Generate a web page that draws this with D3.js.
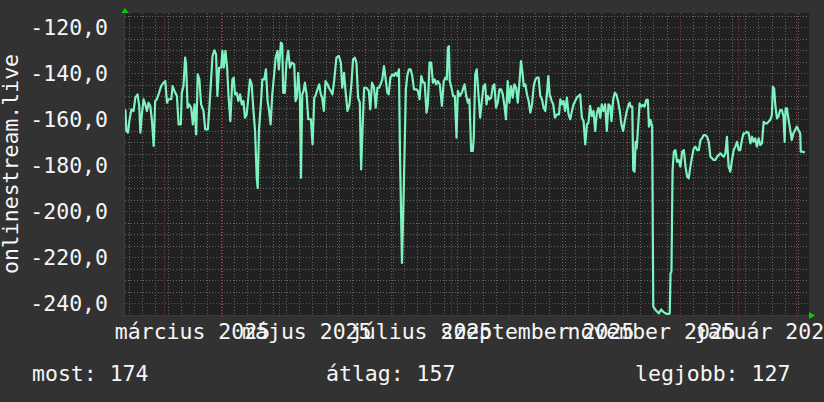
<!DOCTYPE html>
<html>
<head>
<meta charset="utf-8">
<script src="https://cdn.jsdelivr.net/npm/d3@7"></script>
<style>
  body { margin: 0; background: #323232; }
  svg text { font-family: "DejaVu Sans Mono", monospace; font-size: 21.5px; fill: #f6f6f6; }
</style>
</head>
<body>
<div id="chart"></div>
<script>
// readings: [day offset from 2025-02-08, value]
var readings = [
  [0.2,-155.8],[0.7,-165.2],[1.6,-165.9],[2.3,-160.9],[3.4,-155.8],[4.6,-156.5],[5.5,-150.7],[6.7,-149.3],[7.6,-154.3],[8.2,-165.9],
  [9.0,-158.0],[9.9,-151.4],[10.8,-153.6],[11.7,-156.5],[12.6,-152.9],[13.5,-154.3],[14.4,-160.9],[15.3,-171.7],[16.1,-152.2],[17.0,-151.4],
  [17.9,-149.3],[19.3,-145.7],[20.6,-144.2],[21.5,-143.5],[22.4,-152.9],[23.2,-151.4],[24.7,-151.4],[25.4,-145.7],[26.4,-147.8],[27.7,-150.0],
  [28.6,-162.3],[29.8,-162.3],[30.3,-148.6],[31.2,-145.7],[32.1,-133.3],[32.6,-136.2],[33.4,-155.1],[34.2,-153.6],[35.3,-155.1],[36.2,-162.3],
  [37.1,-153.6],[38.0,-166.7],[38.8,-140.6],[39.7,-142.8],[40.6,-153.6],[41.9,-156.5],[42.8,-164.5],[44.2,-164.5],[44.9,-156.5],[45.9,-143.5],
  [46.7,-132.6],[47.7,-130.1],[48.6,-131.9],[49.3,-150.0],[50.2,-137.7],[51.3,-137.7],[52.0,-130.4],[52.7,-137.7],[53.6,-130.4],[54.5,-137.7],
  [55.2,-149.3],[56.2,-160.9],[57.3,-142.8],[58.0,-142.0],[58.7,-149.3],[59.6,-148.6],[60.5,-152.2],[61.4,-149.3],[62.3,-153.6],[63.2,-152.2],
  [64.0,-159.4],[64.9,-158.0],[65.8,-150.7],[66.7,-142.8],[67.6,-144.9],[68.5,-155.8],[69.4,-165.2],[70.3,-185.5],[70.8,-190.1],[71.5,-164.5],
  [72.6,-152.2],[73.3,-142.8],[74.3,-142.8],[75.2,-138.4],[76.1,-152.2],[76.8,-155.8],[77.7,-162.3],[78.6,-149.3],[79.5,-141.3],[80.4,-133.3],
  [81.4,-130.4],[82.1,-138.4],[83.2,-126.8],[83.9,-127.5],[84.4,-148.6],[85.3,-148.6],[86.2,-134.8],[87.1,-130.4],[88.0,-137.7],[88.9,-135.5],
  [90.3,-136.2],
  [91.0,-152.2],[91.7,-150.7],[92.4,-139.9],[93.3,-149.3],[93.9,-185.5],[94.6,-149.3],[95.3,-147.8],[96.0,-144.2],[96.9,-149.3],[97.8,-160.1],
  [99.2,-160.1],[100.1,-171.0],[101.0,-150.7],[101.9,-149.3],[102.7,-147.1],[103.6,-144.9],[104.5,-149.3],[105.2,-150.7],[106.1,-156.5],[107.0,-143.5],
  [108.1,-144.9],[108.8,-146.4],[109.8,-147.8],[110.7,-149.3],[111.6,-143.5],[112.8,-133.3],[114.1,-132.6],[115.2,-135.5],[115.9,-146.4],[116.9,-139.9],
  [117.6,-147.1],[118.7,-156.5],[119.8,-153.6],[120.8,-144.9],[121.7,-134.1],[122.6,-133.3],[123.5,-135.5],[124.4,-150.7],[125.3,-152.9],[126.0,-181.9],
  [126.7,-165.2],[127.6,-146.4],[128.8,-146.4],[130.1,-147.8],[130.9,-155.8],[131.8,-144.2],[132.9,-146.4],[133.8,-155.1],[134.7,-146.4],[135.6,-146.4],
  [136.4,-144.9],[137.3,-142.8],[138.2,-137.0],[138.9,-141.3],[140.0,-148.6],[140.7,-149.3],[141.6,-142.0],[142.7,-140.6],[143.5,-141.3],[144.4,-139.9],
  [145.3,-141.3],[146.2,-138.4],[146.7,-173.5],[147.8,-222.6],[148.7,-192.2],[149.9,-147.0],[150.6,-141.3],[151.5,-138.4],[152.4,-138.4],[153.3,-141.3],
  [154.2,-147.1],[155.4,-147.1],[156.3,-147.8],[157.2,-151.4],[158.1,-141.3],[159.1,-144.2],[159.9,-144.2],[160.9,-157.2],[161.6,-153.6],[162.5,-135.5],
  [163.4,-135.5],[164.3,-144.2],[165.2,-142.8],[166.1,-144.9],[166.9,-143.5],[168.0,-144.9],[169.1,-154.3],[170.1,-143.5],[171.0,-142.0],[171.7,-142.8],
  [172.3,-129.0],[172.8,-128.3],[173.3,-143.5],[174.0,-145.7],[175.1,-150.0],[176.0,-150.0],[176.9,-168.1],[177.6,-147.8],[178.7,-150.0],[179.7,-148.6],
  [180.3,-147.1],[181.2,-144.9],[182.1,-150.0],[183.0,-152.9],[183.8,-151.4],[184.7,-173.9],[185.6,-173.9],[186.1,-168.1],[186.9,-140.6],[187.7,-138.4],
  [188.6,-149.3],[189.5,-159.4],[190.4,-152.2],[191.3,-145.7],[192.2,-144.9],[192.9,-153.6],[193.6,-150.0],[194.5,-151.4],[195.4,-150.7],[196.3,-145.7],
  [197.1,-144.9],[198.0,-155.1],[198.9,-152.9],[199.8,-147.1],[200.7,-147.1],[201.6,-149.3],[202.5,-154.3],[203.3,-160.1],[204.2,-143.5],[205.1,-152.9],
  [206.0,-145.7],[206.9,-150.7],[207.8,-144.9],[208.7,-146.4],[209.6,-152.9],[210.4,-144.9],[211.3,-134.8],[212.0,-139.1],[212.8,-145.7],[213.6,-144.9],
  [214.5,-149.3],[215.4,-152.2],[216.3,-157.2],[217.2,-153.6],[218.1,-145.7],[219.0,-142.8],[219.8,-142.0],[220.7,-142.0],[221.6,-150.0],[222.5,-151.4],
  [223.4,-155.1],[224.3,-156.5],[225.2,-148.6],[225.9,-141.3],[226.6,-149.3],[227.7,-152.2],[228.5,-153.6],[229.4,-159.4],[230.5,-158.0],[231.6,-158.0],
  [232.3,-151.4],[233.2,-153.6],[234.0,-152.2],[234.9,-156.5],[235.8,-150.7],[236.7,-158.0],[237.6,-160.1],[238.5,-156.5],[239.4,-153.6],[240.2,-152.2],
  [241.1,-150.7],[242.0,-150.0],[242.9,-149.3],[243.8,-159.4],[244.7,-160.9],[245.6,-171.0],[246.5,-162.3],[247.3,-161.6],[248.2,-154.3],[249.1,-158.7],
  [250.0,-156.5],[250.9,-165.2],[251.8,-157.2],[252.7,-155.1],[253.6,-159.4],[254.4,-153.6],[255.3,-156.5],[256.2,-153.6],[257.1,-165.2],[258.0,-153.6],
  [258.9,-154.3],[259.6,-160.9],[260.5,-151.4],[261.4,-148.6],[262.2,-149.3],[263.1,-152.2],[264.0,-156.5],[264.9,-162.3],[265.8,-165.2],[266.7,-160.9],
  [267.6,-157.2],[268.5,-154.3],[269.3,-152.9],
  [269.8,-154.6],[270.7,-154.6],[271.2,-182.2],[271.9,-182.9],[272.5,-169.9],[273.0,-172.8],[273.7,-164.8],[274.6,-153.2],[275.5,-154.6],[276.4,-153.9],
  [277.3,-154.6],[278.1,-151.7],[279.0,-151.7],[279.6,-163.3],[280.4,-160.4],[281.3,-163.3],[281.9,-241.6],[283.1,-243.0],[284.9,-244.5],[286.1,-242.8],
  [287.2,-243.8],[288.4,-244.5],[289.7,-244.8],[290.7,-244.5],[291.1,-227.1],[291.6,-226.4],[292.2,-182.2],[292.9,-174.2],[293.7,-173.5],[294.6,-178.6],
  [295.5,-177.8],[296.4,-180.7],[297.3,-174.2],[298.2,-173.5],[299.1,-180.7],[300.0,-185.1],[300.8,-185.8],[301.7,-180.7],[302.6,-176.4],[303.5,-172.8],
  [304.4,-172.0],[305.3,-173.5],[306.2,-173.5],[307.1,-169.1],[307.9,-168.4],[308.8,-167.0],[309.7,-167.0],[310.6,-167.7],[311.5,-169.9],[312.4,-176.4],
  [313.3,-177.1],[314.1,-177.8],[315.0,-177.8],[315.9,-176.4],[316.8,-175.7],[317.7,-174.9],[318.6,-175.7],[319.5,-176.4],[320.4,-174.9],[321.2,-167.7],
  [322.1,-180.7],[323.0,-182.9],[323.9,-177.8],[324.8,-173.5],[325.7,-172.0],[326.6,-169.9],[327.5,-173.5],[328.3,-173.5],[329.2,-169.1],[330.1,-166.2],
  [331.0,-166.2],[331.9,-165.5],[332.8,-166.2],[333.7,-170.6],[334.6,-167.7],[335.4,-169.9],[336.3,-168.4],[337.2,-172.0],[338.1,-168.4],[339.0,-171.3],
  [339.9,-170.6],[340.8,-161.2],[341.6,-161.9],[342.5,-161.9],[343.4,-161.2],[344.3,-160.4],[345.2,-158.3],[345.7,-146.0],[346.4,-146.7],[347.0,-153.9],
  [347.9,-159.7],[348.7,-158.9],[349.6,-156.1],[350.5,-156.1],[351.4,-158.9],[352.0,-169.9],[352.5,-155.4],[353.2,-155.4],[354.1,-160.4],[355.0,-164.8],
  [355.8,-169.1],[356.7,-166.2],[357.6,-164.8],[358.5,-163.3],[359.4,-164.8],[360.3,-166.2],[360.6,-174.2],[361.7,-174.2],[362.8,-174.6]
];

var yTicks = [-120, -140, -160, -180, -200, -220, -240];
var yRange = [-245.2, -113.9];
var timeRange = [new Date(2025, 1, 8), new Date(2026, 1, 8)];
var monthNames = ["január", "február", "március", "április", "május", "június",
                  "július", "augusztus", "szeptember", "október", "november", "december"];
var yTitle = "onlinestream.live";
var legendLabels = ["most", "átlag", "legjobb"];
var legendValues = [174, 157, 127];

var margin = {top: 13, left: 125},
    width = 684,
    height = 302;

var svg = d3.select("#chart")
  .append("svg")
    .attr("width", 824)
    .attr("height", 402);

svg.append("rect").attr("width", 824).attr("height", 402).attr("fill", "#323232");

var g = svg.append("g")
  .attr("transform", "translate(" + margin.left + "," + margin.top + ")");

g.append("rect").attr("width", width).attr("height", height).attr("fill", "#212121");

var x = d3.scaleTime().domain(timeRange).range([0, width]);
var y = d3.scaleLinear().domain(yRange).range([height, 0]);

function dayToDate(d) { return new Date(timeRange[0].getTime() + d * 864e5); }

// grid
var minorX = d3.timeMonday.range(timeRange[0], timeRange[1]);
var majorX = d3.timeMonth.range(timeRange[0], timeRange[1]);
var minorY = d3.range(-245, yRange[1], 5).filter(v => v > yRange[0] && yTicks.indexOf(v) < 0);

g.selectAll(".minx").data(minorX).enter().append("line")
  .attr("x1", d => Math.round(x(d)) + 0.5).attr("x2", d => Math.round(x(d)) + 0.5)
  .attr("y1", 0).attr("y2", height)
  .attr("stroke", "#666").attr("stroke-dasharray", "1,2");

g.selectAll(".miny").data(minorY).enter().append("line")
  .attr("y1", d => Math.round(y(d)) + 0.5).attr("y2", d => Math.round(y(d)) + 0.5)
  .attr("x1", 0).attr("x2", width)
  .attr("stroke", "#666").attr("stroke-dasharray", "1,2");

g.selectAll(".majx").data(majorX).enter().append("line")
  .attr("x1", d => Math.round(x(d)) + 0.5).attr("x2", d => Math.round(x(d)) + 0.5)
  .attr("y1", 0).attr("y2", height + 2)
  .attr("stroke", "#8c3c3c").attr("stroke-dasharray", "1,2");

g.selectAll(".majy").data(yTicks).enter().append("line")
  .attr("y1", d => Math.round(y(d)) + 0.5).attr("y2", d => Math.round(y(d)) + 0.5)
  .attr("x1", -2).attr("x2", width)
  .attr("stroke", "#8c3c3c").attr("stroke-dasharray", "1,2");

// data line
g.append("clipPath").attr("id", "clip")
  .append("rect").attr("width", width).attr("height", height);

g.append("path")
  .datum(readings)
  .attr("clip-path", "url(#clip)")
  .attr("fill", "none")
  .attr("stroke", "#7df3c0")
  .attr("stroke-width", 2.2)
  .attr("stroke-linejoin", "round")
  .attr("d", d3.line()
    .x(d => x(dayToDate(d[0])))
    .y(d => y(d[1])));

// axes
g.append("line").attr("x1", -0.5).attr("x2", -0.5).attr("y1", -3).attr("y2", height + 3)
  .attr("stroke", "#3c3c3c");
g.append("line").attr("x1", -4).attr("x2", width + 2).attr("y1", height + 0.5).attr("y2", height + 0.5)
  .attr("stroke", "#3c3c3c");

g.append("path").attr("d", "M-3.5,0 L3.5,0 L0,-5 Z").attr("fill", "#00d400");
g.append("path").attr("d", "M" + width + ",-3 L" + width + ",4 L" + (width + 6) + ",0.5 Z")
  .attr("transform", "translate(0," + height + ")").attr("fill", "#00d400");

// y labels
g.selectAll(".ylab").data(yTicks).enter().append("text")
  .attr("x", -17)
  .attr("y", d => y(d) + 7.5)
  .attr("text-anchor", "end")
  .text(d => d3.format(".1f")(d).replace(".", ",").replace("−", "-"));

// x labels, centred half a month after the month start
var labelMonths = d3.timeMonth.every(2).range(timeRange[0], timeRange[1]);
g.selectAll(".xlab").data(labelMonths).enter().append("text")
  .attr("x", d => x(d3.timeDay.offset(d, 15)))
  .attr("y", height + 24)
  .attr("text-anchor", "middle")
  .text(d => monthNames[d.getMonth()] + " " + d.getFullYear());

// y title
svg.append("text")
  .attr("transform", "translate(18," + (margin.top + height / 2) + ") rotate(-90)")
  .attr("text-anchor", "middle")
  .text(yTitle);

// legend
var legendX = [32, 326, 635];
svg.selectAll(".leg").data(legendLabels).enter().append("text")
  .attr("x", (d, i) => legendX[i])
  .attr("y", 381)
  .text((d, i) => d + ": " + legendValues[i]);
</script>
</body>
</html>
